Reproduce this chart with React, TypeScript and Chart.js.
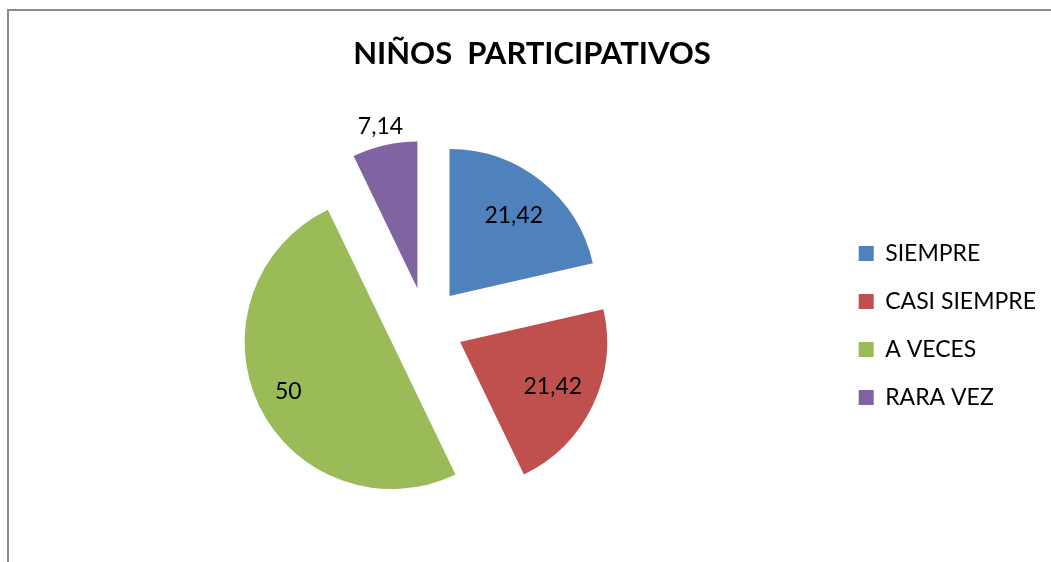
import React, { useEffect, useRef } from "react";
import { Chart, registerables } from "chart.js";

Chart.register(...registerables);

const CATEGORIES = ["SIEMPRE", "CASI SIEMPRE", "A VECES", "RARA VEZ"];
const VALUES = [21.42, 21.42, 50, 7.14];
const COLORS = ["#4F81BD", "#C0504D", "#9BBB59", "#8064A2"];
const TITLE = "NIÑOS  PARTICIPATIVOS";

const EXPLODE = 38;
const PIE_RADIUS = 147;
const LABEL_RADIUS = [0.7, 0.7, 0.78, 1.13];
const FONT = "Lato, 'Open Sans', sans-serif";

const explodePlugin = {
  id: "explode",
  beforeDatasetDraw(chart: any, args: any) {
    const meta = args.meta;
    const area = chart.chartArea;
    const cx = (area.left + area.right) / 2;
    const cy = (area.top + area.bottom) / 2;
    meta.data.forEach((arc: any) => {
      const mid = (arc.startAngle + arc.endAngle) / 2;
      arc.x = cx + Math.cos(mid) * EXPLODE;
      arc.y = cy + Math.sin(mid) * EXPLODE;
    });
  },
};

const labelPlugin = {
  id: "sliceLabels",
  afterDatasetsDraw(chart: any) {
    const ctx = chart.ctx;
    const meta = chart.getDatasetMeta(0);
    const data = chart.data.datasets[0].data;
    ctx.save();
    ctx.font = `23px ${FONT}`;
    ctx.fillStyle = "#000";
    ctx.textAlign = "center";
    ctx.textBaseline = "middle";
    meta.data.forEach((arc: any, i: number) => {
      const mid = (arc.startAngle + arc.endAngle) / 2;
      const r = arc.outerRadius * LABEL_RADIUS[i];
      const x = arc.x + Math.cos(mid) * r;
      const y = arc.y + Math.sin(mid) * r;
      ctx.fillText(String(data[i]).replace(".", ","), x, y);
    });
    ctx.restore();
  },
};

export default function App() {
  const ref = useRef<HTMLCanvasElement | null>(null);

  useEffect(() => {
    if (!ref.current) return;
    const chart = new Chart(ref.current, {
      type: "pie",
      data: {
        labels: CATEGORIES,
        datasets: [
          {
            data: VALUES,
            backgroundColor: COLORS,
            borderWidth: 0,
            radius: PIE_RADIUS,
          } as any,
        ],
      },
      options: {
        animation: false,
        responsive: false,
        layout: { padding: { left: 18, right: 5, top: 0, bottom: 0 } },
        plugins: {
          title: {
            display: true,
            text: TITLE,
            color: "#000",
            font: { family: FONT, size: 31, weight: "bold" },
            padding: { top: 35, bottom: 17 },
          },
          legend: {
            position: "right",
            fullSize: false,
            labels: {
              color: "#000",
              font: { family: FONT, size: 23 },
              boxWidth: 15,
              boxHeight: 15,
              padding: 25,
            },
          },
          tooltip: { enabled: false },
        },
      },
      plugins: [explodePlugin, labelPlugin],
    });
    return () => chart.destroy();
  }, []);

  return (
    <div style={{ position: "fixed", left: 0, top: 0, width: 1051, height: 562, overflow: "hidden", background: "#fff" }}>
      <div
        style={{
          position: "absolute",
          left: 7,
          top: 9,
          width: 1200,
          height: 700,
          borderLeft: "2px solid #898989",
          borderTop: "2px solid #898989",
        }}
      />
      <canvas ref={ref} width={1051} height={562} style={{ position: "absolute", left: 0, top: 0, display: "block" }} />
    </div>
  );
}
